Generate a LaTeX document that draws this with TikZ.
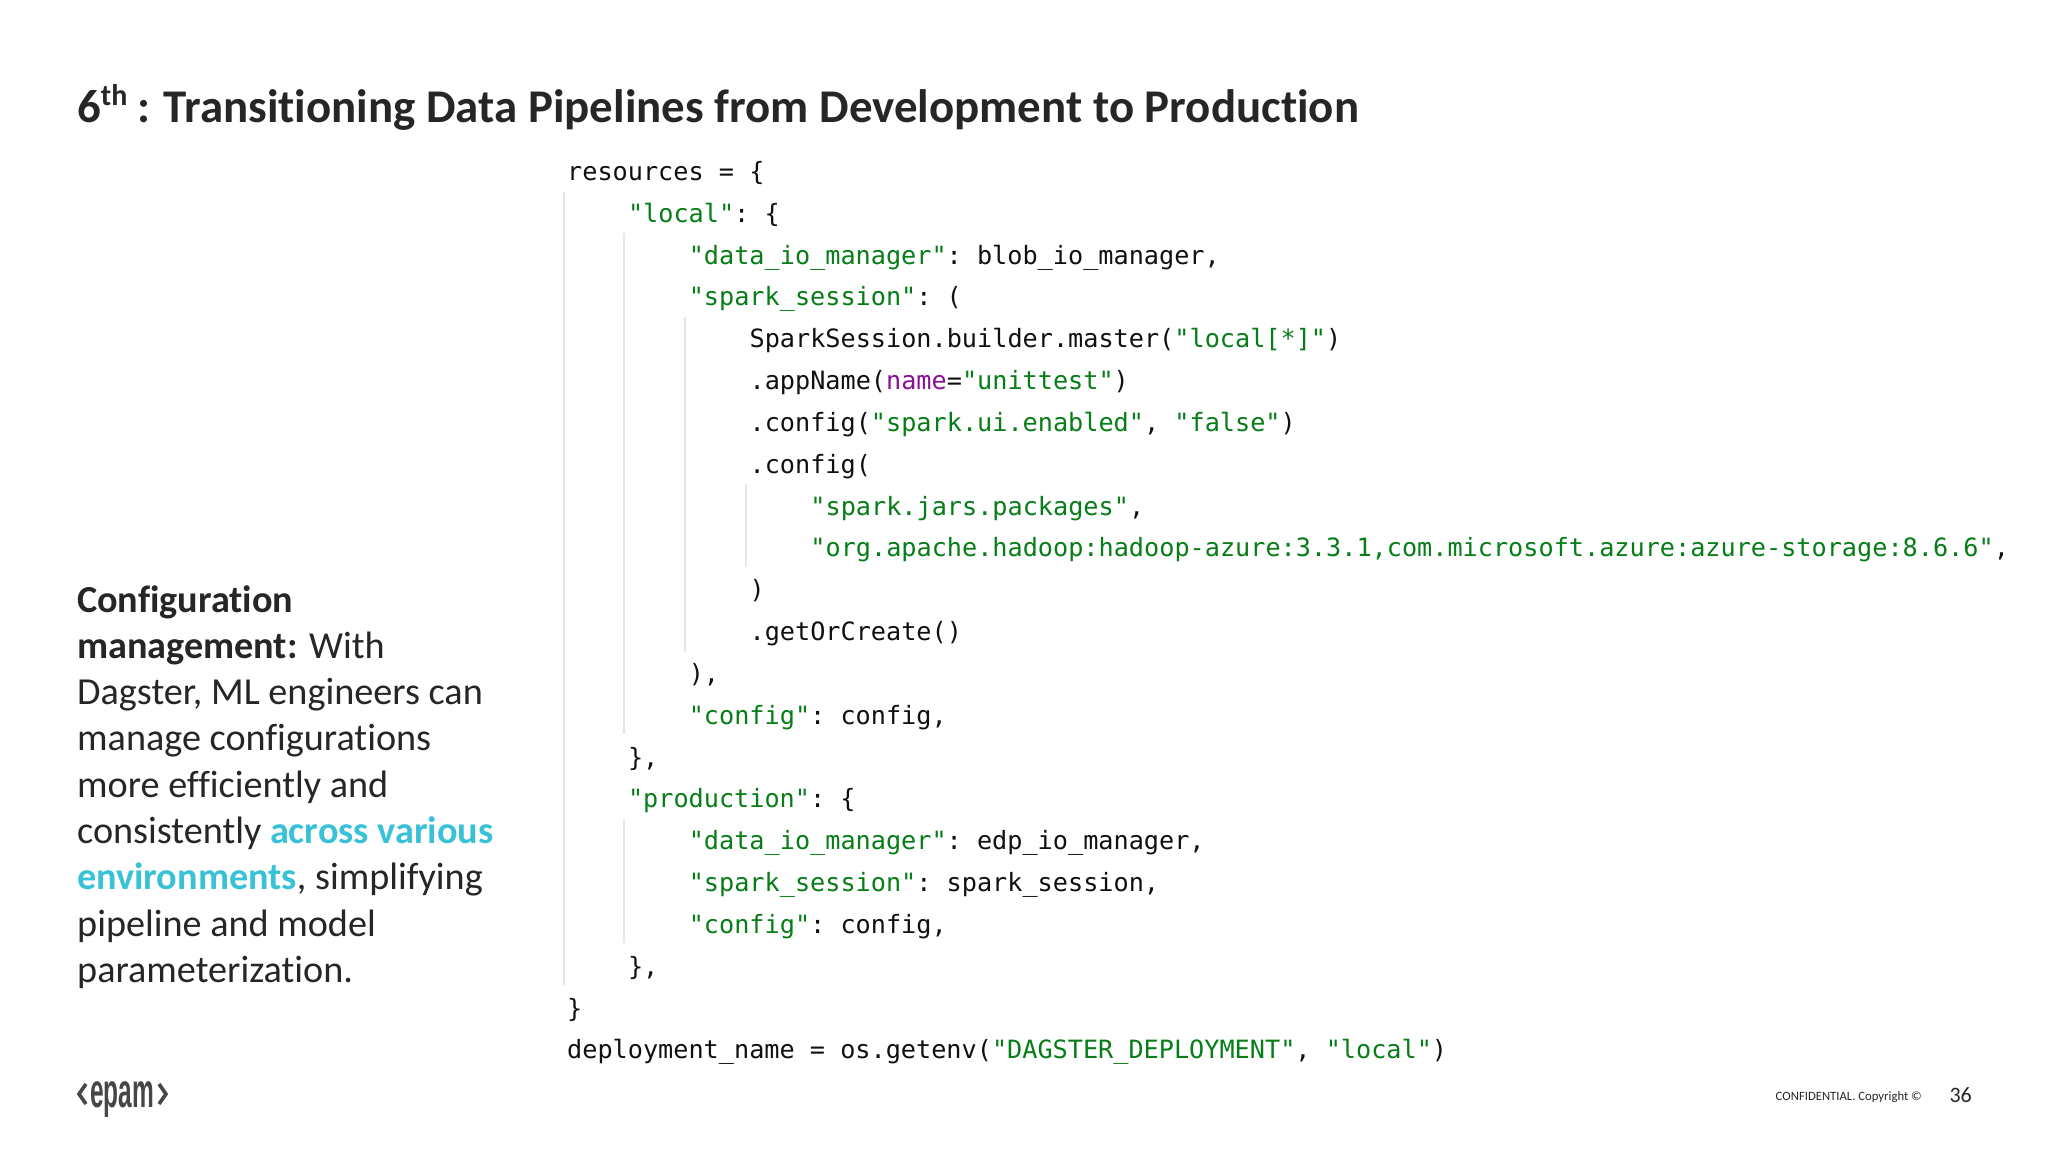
\documentclass[tikz,border=0pt]{standalone}
\usepackage{fontspec}
\setmainfont[Ligatures=NoCommon]{Carlito}
\setmonofont{DejaVu Sans Mono}
\newfontfamily\logofont{Liberation Sans}
\definecolor{codegreen}{HTML}{067D17}
\definecolor{codepurple}{HTML}{871094}
\definecolor{codeblack}{HTML}{101010}
\definecolor{guidegray}{HTML}{E6E6E6}
\definecolor{bodyblack}{HTML}{262626}
\definecolor{epamteal}{HTML}{39C2D7}
\definecolor{logogray}{HTML}{464547}
\newcommand{\gs}[1]{\textcolor{codegreen}{#1}}
\tikzset{
    codeline/.style={anchor=base west, inner sep=0pt, text=codeblack, font=\ttfamily\fontsize{25.2}{30}\selectfont},
    guide/.style={draw=guidegray, line width=1.5pt},
    chevron/.style={draw=logogray, line width=3.6pt},
}
\begin{document}
\begin{tikzpicture}[x=1pt, y=-1pt]
    \useasboundingbox (0,0) rectangle (2048,1152);
    \node[anchor=base west, inner sep=0pt, text=bodyblack, font=\bfseries\fontsize{46.9}{52}\selectfont] (title) at (77,122)
        {6\raisebox{17pt}{\fontsize{30}{30}\selectfont th}\hspace{-1pt} :\hspace{-0.5pt} Transitioning Data Pipelines from Development to Production};
    % indent guides
    \draw[guide] (564,192) -- (564,985);
    \draw[guide] (624,233) -- (624,734);
    \draw[guide] (624,820) -- (624,943);
    \draw[guide] (685,317) -- (685,652);
    \draw[guide] (746,484) -- (746,567);
    % column/text, one per line
    \foreach \col/\txt [count=\i from 0] in {
        0/{resources = \{},
        1/{\gs{"local"}: \{},
        2/{\gs{"data\_io\_manager"}: blob\_io\_manager,},
        2/{\gs{"spark\_session"}: (},
        3/{SparkSession.builder.master(\gs{"local[*]"})},
        3/{.appName(\textcolor{codepurple}{name}=\gs{"unittest"})},
        3/{.config(\gs{"spark.ui.enabled"}, \gs{"false"})},
        3/{.config(},
        4/{\gs{"spark.jars.packages"},},
        4/{\gs{"org.apache.hadoop:hadoop-azure:3.3.1,com.microsoft.azure:azure-storage:8.6.6"},},
        3/{)},
        3/{.getOrCreate()},
        2/{),},
        2/{\gs{"config"}: config,},
        1/{\},},
        1/{\gs{"production"}: \{},
        2/{\gs{"data\_io\_manager"}: edp\_io\_manager,},
        2/{\gs{"spark\_session"}: spark\_session,},
        2/{\gs{"config"}: config,},
        1/{\},},
        0/{\}},
        0/{deployment\_name = os.getenv(\gs{"DAGSTER\_DEPLOYMENT"}, \gs{"local"})}}
        \node[codeline] (code\i) at ({567+60.8*\col},{180.4+41.83*\i}) {\txt};
    \node[anchor=north west, inner sep=0pt, align=left, text=bodyblack, font=\fontsize{38.2}{46.3}\selectfont] (bodytext) at (77,585)
        {\textbf{Configuration}\\
         \textbf{management:} With\\
         Dagster, ML engineers can\\
         manage configurations\\
         more efficiently and\\
         consistently \textcolor{epamteal}{\textbf{across various}}\\
         \textcolor{epamteal}{\textbf{environments}}, simplifying\\
         pipeline and model\\
         parameterization.};
    % logo
    \draw[chevron] (86,1084) -- (79,1094) -- (86,1104);
    \draw[chevron] (159,1084) -- (166,1094) -- (159,1104);
    \node[anchor=base west, inner sep=0pt, text=logogray, xscale=0.51, font=\logofont\bfseries\fontsize{48}{50}\selectfont] (logo) at (90,1107) {epam};
    \node[anchor=base east, inner sep=0pt, text=bodyblack, font=\fontsize{12.7}{15}\selectfont] (confidential) at (1922,1100) {CONFIDENTIAL. Copyright ©};
    \node[anchor=base east, inner sep=0pt, text=bodyblack, font=\fontsize{22}{24}\selectfont] (pagenum) at (1972,1102) {36};
\end{tikzpicture}
\end{document}
